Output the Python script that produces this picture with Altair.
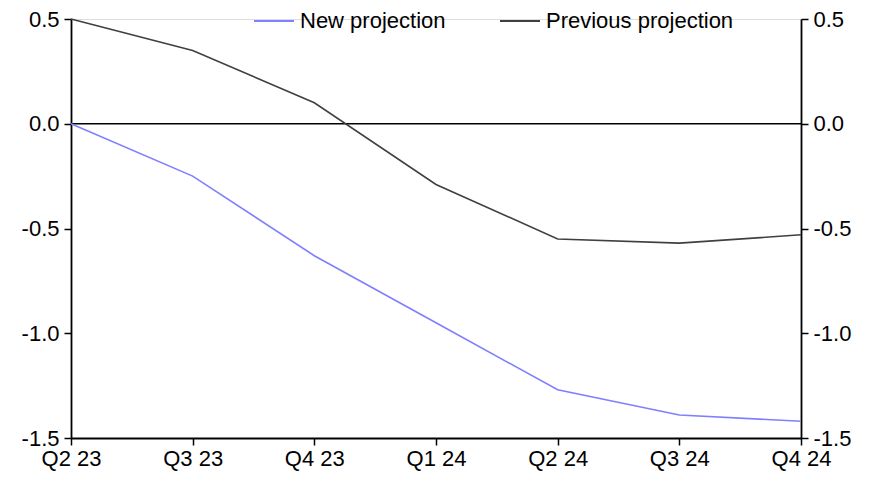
import altair as alt
import pandas as pd

quarters = ["Q2 23", "Q3 23", "Q4 23", "Q1 24", "Q2 24", "Q3 24", "Q4 24"]
new_projection = [0.0, -0.25, -0.63, -0.95, -1.27, -1.39, -1.42]
previous_projection = [0.5, 0.35, 0.10, -0.29, -0.55, -0.57, -0.53]
series_names = ["New projection", "Previous projection"]
series_colors = ["#7f7fff", "#404040"]
y_ticks = [-1.5, -1.0, -0.5, 0.0, 0.5]

rows = []
for q, v in zip(quarters, new_projection):
    rows.append({"quarter": q, "value": v, "series": series_names[0]})
for q, v in zip(quarters, previous_projection):
    rows.append({"quarter": q, "value": v, "series": series_names[1]})
df = pd.DataFrame(rows)

FONT = "Liberation Sans"
FS = 22

x_enc = alt.X(
    "quarter:N",
    sort=quarters,
    scale=alt.Scale(type="point", padding=0),
    axis=alt.Axis(
        title=None, labelAngle=0, labelFontSize=FS, labelFont=FONT, labelColor="black",
        domainColor="black", domainWidth=2, tickColor="black", tickSize=7, tickWidth=1.5,
        labelPadding=3, grid=False,
    ),
)

y_scale = alt.Scale(domain=[-1.5, 0.5], nice=False, zero=False)
label_expr = "datum.value < 0 ? '-' + format(-datum.value, '.1f') : format(datum.value, '.1f')"

def y_axis(orient):
    return alt.Axis(
        orient=orient, title=None, values=y_ticks, labelExpr=label_expr,
        labelFontSize=FS, labelFont=FONT, labelColor="black",
        domainColor="black", domainWidth=1.8, tickColor="black", tickSize=7, tickWidth=1.5,
        labelPadding=5, grid=False,
    )

lines = alt.Chart(df).mark_line(strokeWidth=1.6).encode(
    x=x_enc,
    y=alt.Y("value:Q", scale=y_scale, axis=y_axis("left")),
    color=alt.Color(
        "series:N",
        scale=alt.Scale(domain=series_names, range=series_colors),
        legend=alt.Legend(
            title=None, orient="none", legendX=182, legendY=-19, direction="horizontal",
            symbolType="stroke", symbolSize=1600, symbolStrokeWidth=2,
            labelFontSize=FS, labelFont=FONT, labelColor="black", columnPadding=50,
            labelLimit=400, symbolOffset=0, labelOffset=5,
        ),
    ),
)

right_axis = alt.Chart(df).mark_line(opacity=0).encode(
    x=x_enc,
    y=alt.Y("value:Q", scale=y_scale, axis=y_axis("right")),
)

zero = alt.Chart(pd.DataFrame({"y": [0.0]})).mark_rule(color="black", strokeWidth=1.5).encode(
    y=alt.Y("y:Q", scale=y_scale, axis=None)
)

chart = (
    alt.layer(zero, lines, right_axis)
    .resolve_axis(y="independent")
    .properties(
        width=730, height=419,
        autosize=alt.AutoSizeParams(type="none"),
        padding={"left": 63, "top": 11, "right": 64, "bottom": 38},
    )
    .configure_view(stroke=None)
    .configure(background="white")
)

chart.save("out.html", embed_options={"renderer": "svg", "actions": False})
